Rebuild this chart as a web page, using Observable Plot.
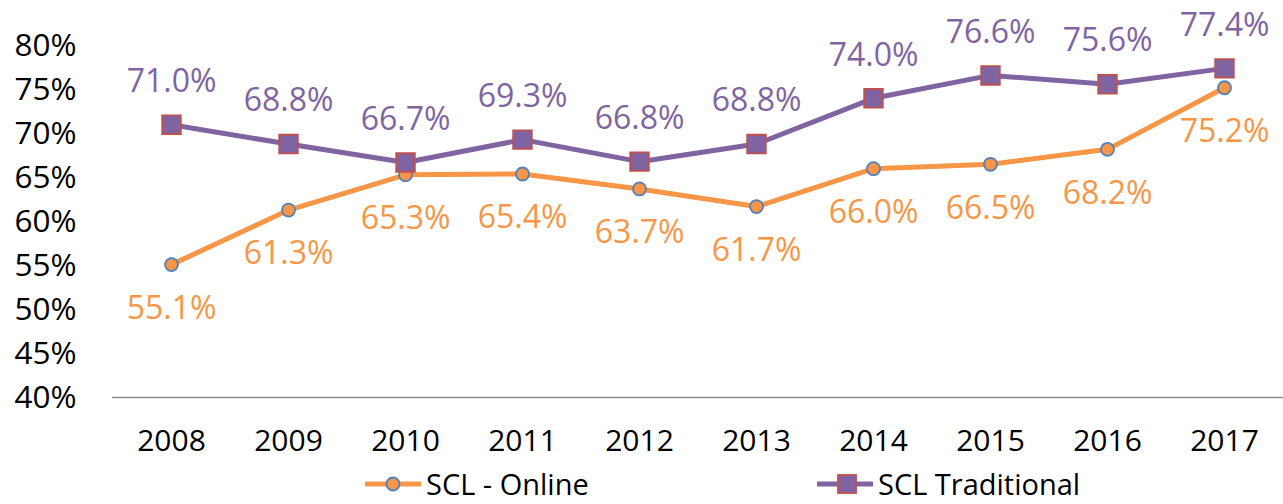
<!DOCTYPE html>
<html>
<head>
<meta charset="utf-8">
<script src="https://cdn.jsdelivr.net/npm/d3@7"></script>
<script src="https://cdn.jsdelivr.net/npm/@observablehq/plot@0.6"></script>
<style>
  html, body { margin: 0; padding: 0; background: #fff; }
  #wrap { position: relative; width: 1283px; height: 504px; overflow: hidden; font-family: "Open Sans", sans-serif; }
  #legend { position: relative; height: 39px; }
  .item { position: absolute; display: flex; align-items: center; height: 22px; font-size: 29px; line-height: 22px; color: #000; }
  .item svg { margin-right: 5px; }
</style>
</head>
<body>
<div id="wrap"><div id="chart"></div></div>
<script>
const years = ["2008","2009","2010","2011","2012","2013","2014","2015","2016","2017"];
const online = [55.1, 61.3, 65.3, 65.4, 63.7, 61.7, 66.0, 66.5, 68.2, 75.2];
const traditional = [71.0, 68.8, 66.7, 69.3, 66.8, 68.8, 74.0, 76.6, 75.6, 77.4];
const yTicks = [40, 45, 50, 55, 60, 65, 70, 75, 80];
const seriesNames = ["SCL - Online", "SCL Traditional"];

const orange = "#F79646", purple = "#8064A2", blue = "#4F81BD", red = "#C0504D";

const dOnline = years.map((y, i) => ({year: y, value: online[i]}));
const dTrad = years.map((y, i) => ({year: y, value: traditional[i]}));
const fmt = d => d.value.toFixed(1) + "%";

const chart = Plot.plot({
  width: 1283,
  height: 465,
  marginLeft: 112,
  marginRight: 0,
  marginTop: 45,
  marginBottom: 68,
  style: {fontFamily: "Open Sans, sans-serif", fontSize: "29px", color: "#000", background: "#fff", overflow: "visible"},
  x: {type: "point", domain: years, padding: 0.5, label: null},
  y: {domain: [40, 80], label: null},
  marks: [
    Plot.axisY({ticks: yTicks, tickFormat: d => d + "%", tickSize: 0, tickPadding: 36, fontSize: 31.5, label: null}),
    Plot.axisX({tickSize: 0, tickPadding: 32, fontSize: 30, label: null}),
    Plot.ruleY([40], {stroke: "#8c8c8c", strokeWidth: 1.5}),
    Plot.line(dOnline, {x: "year", y: "value", stroke: orange, strokeWidth: 5}),
    Plot.line(dTrad, {x: "year", y: "value", stroke: purple, strokeWidth: 5}),
    Plot.dot(dOnline, {x: "year", y: "value", r: 6.5, fill: orange, stroke: blue, strokeWidth: 1.8}),
    Plot.dot(dTrad, {x: "year", y: "value", symbol: "square", r: 10.5, fill: purple, stroke: red, strokeWidth: 1.8}),
    Plot.text(dOnline, {x: "year", y: "value", text: fmt, dy: 44, fill: orange, fontSize: 32}),
    Plot.text(dTrad, {x: "year", y: "value", text: fmt, dy: -43, fill: purple, fontSize: 32})
  ]
});
document.getElementById("chart").appendChild(chart);

// Legend (HTML, below the SVG)
const legend = document.createElement("div");
legend.id = "legend";
const items = [
  {name: seriesNames[0], left: 365, color: orange, marker: `<circle cx="28" cy="10" r="6.5" fill="${orange}" stroke="${blue}" stroke-width="1.8"/>`},
  {name: seriesNames[1], left: 817, color: purple, marker: `<rect x="21" y="1" width="18" height="18" fill="${purple}" stroke="${red}" stroke-width="1.8"/>`}
];
for (const it of items) {
  const el = document.createElement("div");
  el.className = "item";
  el.style.left = it.left + "px";
  el.style.top = "8px";
  el.innerHTML = `<svg width="56" height="20"><line x1="1" y1="10" x2="55" y2="10" stroke="${it.color}" stroke-width="5" stroke-linecap="round"/>${it.marker}</svg><span>${it.name}</span>`;
  legend.appendChild(el);
}
document.getElementById("wrap").appendChild(legend);
</script>
</body>
</html>
